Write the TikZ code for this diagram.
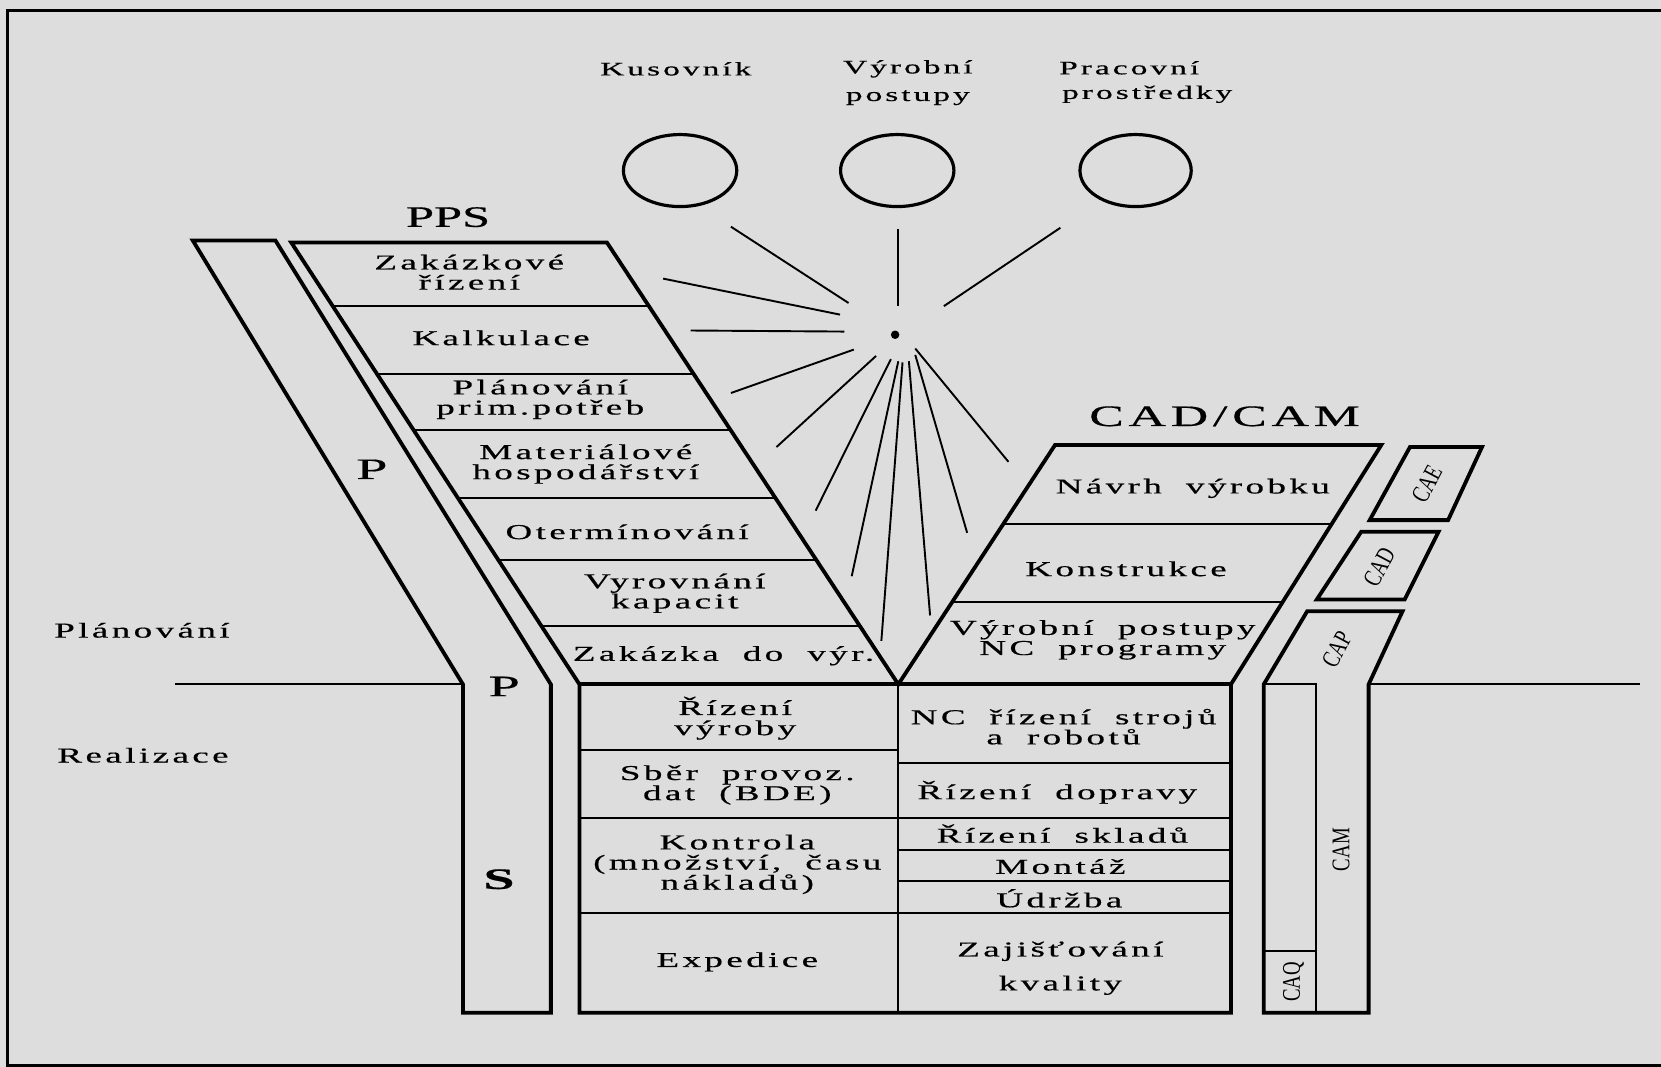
\documentclass[tikz,border=0pt]{standalone}
\usepackage{fontspec}
\setmainfont{Liberation Serif}
\newfontfamily\wfont[FakeStretch=1.75,LetterSpace=16,WordSpace=1.9,FakeBold=0.5]{Liberation Serif}
\newfontfamily\ppsfont[FakeStretch=1.7,FakeBold=0.5]{Liberation Serif}
\newfontfamily\bigfont[FakeStretch=1.9,FakeBold=0.5]{Liberation Serif}
\newfontfamily\narrowfont[FakeStretch=0.74]{Liberation Serif}
\usetikzlibrary{calc}
\definecolor{bg}{RGB}{221,221,221}
\begin{document}
\begin{tikzpicture}[x=1pt,y=-1pt,
  outer/.style={line width=3.6pt, line join=miter},
  inner/.style={line width=1.8pt},
  ray/.style={line width=1.8pt},
  txt/.style={font=\wfont\fontsize{20}{19}\selectfont, align=center, inner sep=0pt},
  toptxt/.style={font=\wfont\fontsize{18}{26}\selectfont, align=center, inner sep=0pt},
  bigtxt/.style={font=\bigfont\fontsize{28}{28}\selectfont, inner sep=0pt},
  rottxt/.style={font=\narrowfont\fontsize{24}{24}\selectfont, inner sep=0pt},
]
\fill[bg] (0,0) rectangle (1568,1007);
\useasboundingbox (0,0) rectangle (1568,1007);
% frame
\draw[line width=3pt] (1568,10) -- (7,10) -- (7,1005.5) -- (1568,1005.5);
% planning / realisation divider
\draw[inner] (165,646) -- (437,646);
\draw[inner] (1292,646) -- (1548,646);
% top labels and circles
\node[toptxt] (kus) at (638,65) {Kusovník};
\node[toptxt] (vyp) at (857,78) {Výrobní\\postupy};
\node[toptxt] (pra1) at (1066,64) {Pracovní};
\node[toptxt] (pra2) at (1083,89) {prostředky};
\draw[line width=3pt] (642,161) ellipse [x radius=53.5pt, y radius=34pt];
\draw[line width=3pt] (847,161) ellipse [x radius=53.5pt, y radius=34pt];
\draw[line width=3pt] (1072,161) ellipse [x radius=52.5pt, y radius=34pt];
% centre dot and rays
\coordinate (dot) at (845,316);
\fill (dot) circle (4pt);
\draw[ray] (690,214) -- (801,286);
\draw[ray] (848,216) -- (848,289);
\draw[ray] (1001,215) -- (891,289);
\draw[ray] (626,263) -- (793,297);
\draw[ray] (652,312) -- (797,313);
\draw[ray] (690,371) -- (806,330);
\draw[ray] (733,422) -- (827,336);
\draw[ray] (770,482) -- (841,339);
\draw[ray] (804,544) -- (848,341);
\draw[ray] (832,605) -- (852,342);
\draw[ray] (878,581) -- (858,341);
\draw[ray] (913,503) -- (864,335);
\draw[ray] (952,436) -- (864,329);
% PPS band
\draw[outer] (182,227) -- (260,227) -- (520,646) -- (520,956) -- (437,956) -- (437,646) -- cycle;
% main V shape
\draw[outer] (275,229) -- (573,229) -- (848,646) -- (996,420) -- (1304,420) -- (1162,646)
  -- (1162,956) -- (547,956) -- (547,646) -- cycle;
\draw[outer] (547,646) -- (1162,646);
\draw[inner] (848,646) -- (848,956);
% PPS rows
\coordinate (PL0) at (275,229); \coordinate (PL1) at (547,646);
\coordinate (PR0) at (573,229); \coordinate (PR1) at (848,646);
\foreach \t in {0.1439,0.2974,0.4245,0.5779,0.7194,0.8681}
  \draw[inner] ($(PL0)!\t!(PL1)$) -- ($(PR0)!\t!(PR1)$);
% CAD/CAM rows
\coordinate (CL0) at (996,420); \coordinate (CL1) at (848,646);
\coordinate (CR0) at (1304,420); \coordinate (CR1) at (1162,646);
\foreach \t in {0.3319,0.6549}
  \draw[inner] ($(CL0)!\t!(CL1)$) -- ($(CR0)!\t!(CR1)$);
% lower table rows
\foreach \y in {708,772.5,862} \draw[inner] (547,\y) -- (848,\y);
\foreach \y in {720.5,772.5,802,832,862} \draw[inner] (848,\y) -- (1162,\y);
% CAx boxes
\draw[outer] (1331,422) -- (1399,422) -- (1367,491) -- (1293,491) -- cycle;
\draw[outer] (1285,502) -- (1358,502) -- (1326,566) -- (1243,566) -- cycle;
\draw[outer] (1234,577) -- (1324,577) -- (1292,646) -- (1292,956) -- (1193,956) -- (1193,646) -- cycle;
\draw[inner] (1193,646) -- (1242,646) -- (1242,956);
\draw[inner] (1193,898) -- (1242,898);
% headers
\node[font=\ppsfont\fontsize{28}{28}\selectfont, inner sep=0pt] (pps) at (423,205) {PPS};
\node[font=\wfont\fontsize{28}{28}\selectfont, inner sep=0pt] (cadcam) at (1156,393) {CAD/CAM};
% band letters
\node[bigtxt] (p1) at (351,443) {P};
\node[bigtxt] (p2) at (476,648) {P};
\node[bigtxt] (s1) at (471,830) {\bfseries S};
% side labels
\node[txt] (plan) at (134,595) {Plánování};
\node[txt] (real) at (135,713) {Realizace};
% PPS texts
\node[txt] (zr) at (443,257) {Zakázkové\\řízení};
\node[txt] (kal) at (473,319) {Kalkulace};
\node[txt] (ppl) at (510,377) {Plánování\\prim.potřeb};
\node[txt] (mat) at (553,438) {Materiálové\\hospodářství};
\node[txt] (ote) at (592,502) {Otermínování};
\node[txt] (vyr) at (637,560) {Vyrovnání\\kapacit};
\node[txt] (zak) at (683,619) {Zakázka do výr.};
% CAD/CAM texts
\node[txt] (nav) at (1126,461) {Návrh výrobku};
\node[txt] (kons) at (1063,537) {Konstrukce};
\node[txt] (vp) at (1041,604) {Výrobní postupy\\NC programy};
% lower left
\node[txt] (riz) at (694,678) {Řízení\\výroby};
\node[txt] (sber) at (696,741) {Sběr provoz.\\dat (BDE)};
\node[txt] (kon) at (696,816) {Kontrola\\(množství, času\\nákladů)};
\node[txt] (exped) at (696,908) {Expedice};
% lower right
\node[txt] (nc) at (1004,686) {NC řízení strojů\\a robotů};
\node[txt] (dop) at (998,748) {Řízení dopravy};
\node[txt] (skl) at (1003,787) {Řízení skladů};
\node[txt] (mon) at (1001,818) {Montáž};
\node[txt] (udr) at (1000,848) {Údržba};
\node[txt, font=\wfont\fontsize{20}{32}\selectfont] (zaj) at (1001,914) {Zajišťování\\kvality};
% rotated labels
\node[rottxt, rotate=62] (cae) at (1347,457) {CAE};
\node[rottxt, rotate=62] (cad) at (1302,535) {CAD};
\node[rottxt, rotate=62] (cap) at (1262,613) {CAP};
\node[rottxt, rotate=90] (cam) at (1266,802) {CAM};
\node[rottxt, rotate=90] (caq) at (1221,927) {CAQ};
\end{tikzpicture}
\end{document}
